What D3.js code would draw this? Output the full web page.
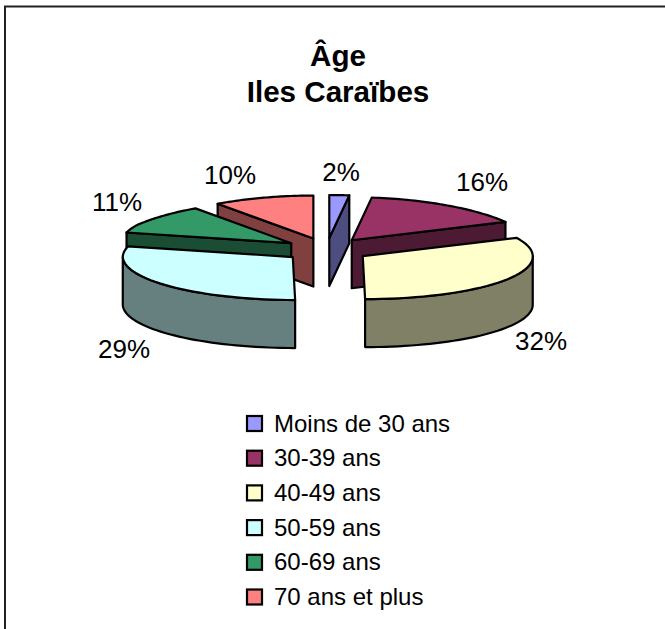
<!DOCTYPE html>
<html><head><meta charset="utf-8"><script src="https://cdn.jsdelivr.net/npm/d3@7"></script>
<style>html,body{margin:0;padding:0;background:#fff}svg{display:block}text{font-family:"Liberation Sans",Arial,sans-serif;fill:#000}</style>
</head><body><svg id="c" width="665" height="629"></svg>
<script>
const categories = ["Moins de 30 ans","30-39 ans","40-49 ans","50-59 ans","60-69 ans","70 ans et plus"];
const values = [2,16,32,29,11,10];
const topColors = ["#9999ff","#993366","#ffffcc","#ccffff","#339966","#ff8080"];
const titleLines = ["Âge","Iles Caraïbes"];
const labelPositions = [[341,181],[482,191],[541,350],[124,358],[117,211],[230,184]];

const svg = d3.select("#c");
const W = 665, H = 629;
svg.append("rect").attr("x",5).attr("y",6.5).attr("width",W+10).attr("height",H+10).attr("fill","#fff").attr("stroke","#222").attr("stroke-width",2);

const cx=326.6, cy=249.8, ex=42.8, ey=11.8, R=170, K=43, depth=48;
const arcs = d3.pie().sort(null).startAngle(0).endAngle(2*Math.PI)(values);
const dark = c => { const q=d3.rgb(c); return d3.rgb(q.r/2,q.g/2,q.b/2).formatHex(); };
const proj = (s,a,r=1,dz=0) => {
  const yy = -K*r*Math.cos(a);
  const narrow = 1 - 0.0025*Math.max(0,-yy-18);
  return [s.ax + R*r*Math.sin(a)*narrow + 0.055*Math.max(0,yy), s.ay + yy + dz];
};
const line = d3.line();
const samples = (a0,a1) => d3.range(0,41).map(i=>a0+(a1-a0)*i/40);
const slices = arcs.map((d,i)=>{
  const mid=(d.startAngle+d.endAngle)/2;
  return {i,a0:d.startAngle,a1:d.endAngle,ax:cx+ex*Math.sin(mid),ay:cy-ey*Math.cos(mid),c:topColors[i]};
});
const g = svg.append("g").attr("stroke","#000").attr("stroke-width",2.2).attr("stroke-linejoin","round");
function radialWall(s,a){
  const p=proj(s,a), o=[s.ax,s.ay];
  g.append("path").attr("d",line([o,p,[p[0],p[1]+depth],[o[0],o[1]+depth]])+"Z").attr("fill",dark(s.c));
}
function outerWall(s){
  const a0=Math.max(s.a0,Math.PI/2), a1=Math.min(s.a1,Math.PI*1.5);
  if(a1<=a0) return;
  const top=samples(a0,a1).map(a=>proj(s,a));
  const bot=samples(a1,a0).map(a=>proj(s,a,1,depth));
  g.append("path").attr("d",line(top.concat(bot))+"Z").attr("fill",dark(s.c));
}
function topFace(s){
  g.append("path").attr("d",line([[s.ax,s.ay]].concat(samples(s.a0,s.a1).map(a=>proj(s,a))))+"Z").attr("fill",s.c);
}
// back to front painting order
[5,0,4,1].forEach(i=>{
  const s=slices[i];
  radialWall(s, i===5||i===4 ? s.a0 : s.a1);
  topFace(s);
});
[2,3].forEach(i=>{ const s=slices[i]; outerWall(s); topFace(s); });

svg.append("g").selectAll("text").data(values).join("text")
  .attr("x",(d,i)=>labelPositions[i][0]).attr("y",(d,i)=>labelPositions[i][1])
  .attr("text-anchor","middle").attr("font-size",26).text(d=>d+"%");

svg.append("g").selectAll("text").data(titleLines).join("text")
  .attr("x",338).attr("y",(d,i)=>65.5+i*36).attr("text-anchor","middle")
  .attr("font-size",29.6).attr("font-weight","bold").text(d=>d);

const ly = d3.scalePoint().domain(categories).range([423.5,597]);
const lg = svg.append("g").selectAll("g").data(categories).join("g").attr("transform",d=>`translate(0,${ly(d)})`);
lg.append("rect").attr("x",247).attr("y",-7.5).attr("width",15).attr("height",15).attr("fill",(d,i)=>topColors[i]).attr("stroke","#000").attr("stroke-width",2.2);
lg.append("text").attr("x",274).attr("y",8).attr("font-size",24).text(d=>d);
</script></body></html>
